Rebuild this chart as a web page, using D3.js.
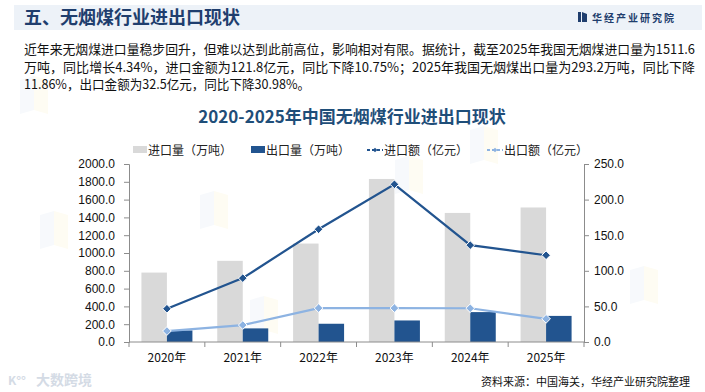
<!DOCTYPE html>
<html><head><meta charset="utf-8">
<script src="https://cdn.jsdelivr.net/npm/d3@7/dist/d3.min.js"></script>
<style>
html,body{margin:0;padding:0;background:#fff;}
svg{display:block;font-family:"Noto Sans CJK SC","Microsoft YaHei",sans-serif;}
</style></head>
<body><svg id="c" width="705" height="392"></svg>
<script>
const categories = ["2020年","2021年","2022年","2023年","2024年","2025年"];
const importVolume = [780, 912, 1106, 1832, 1450, 1511.6];
const exportVolume = [130, 153, 205, 242, 336, 293.2];
const importValue = [46.7, 89.7, 158.4, 221.5, 136.0, 121.8];
const exportValue = [15.4, 23.8, 47.6, 47.6, 47.4, 32.5];
const leftTicks = [0,200,400,600,800,1000,1200,1400,1600,1800,2000];
const rightTicks = [0,50,100,150,200,250];
const seriesNames = ["进口量（万吨）","出口量（万吨）","进口额（亿元）","出口额（亿元）"];
const paragraph = [
 "近年来无烟煤进口量稳步回升，但难以达到此前高位，影响相对有限。据统计，截至2025年我国无烟煤进口量为1511.6",
 "万吨，同比增长4.34%，进口金额为121.8亿元，同比下降10.75%；2025年我国无烟煤出口量为293.2万吨，同比下降",
 "11.86%，出口金额为32.5亿元，同比下降30.98%。"
];

const svg = d3.select("#c");
const C = {gray:"#d9d9d9", dark:"#22548f", imp:"#22548f", exp:"#8db3e2", title:"#1f3e6e"};

// faint watermark shapes (non-text)
[[20,80],[200,195],[40,215],[395,160],[250,300],[630,270],[470,130]].forEach(([x,y])=>{
  svg.append("path").attr("d",`M${x},${y} l14,-4 l0,34 l-14,4 Z`).attr("fill","#9fb6d8").attr("opacity",0.08);
  svg.append("path").attr("d",`M${x+14},${y-4} l14,4 l0,34 l-14,-4 Z`).attr("fill","#f5d66a").attr("opacity",0.08);
});

// header band
svg.append("rect").attr("x",14).attr("y",5).attr("width",688).attr("height",25).attr("fill","#edf2f8");
svg.append("text").attr("x",24).attr("y",24).attr("font-size",18).attr("font-weight","bold")
  .attr("fill",C.title).text("五、无烟煤行业进出口现状");
// logo
svg.append("rect").attr("x",578).attr("y",12).attr("width",3).attr("height",10).attr("fill",C.title);
svg.append("path").attr("d","M582,12 L587,14 L587,22 L582,22 Z").attr("fill",C.title);
svg.append("text").attr("x",592).attr("y",21.5).attr("font-size",10).attr("font-weight","bold")
  .attr("letter-spacing",2).attr("fill",C.title).text("华经产业研究院");

// paragraph
const pw = [671, 671, 286];
paragraph.forEach((t,i)=>{
  svg.append("text").attr("x",24).attr("y",54+i*17.5).attr("font-size",13).attr("fill","#111")
    .attr("textLength",pw[i]).attr("lengthAdjust","spacingAndGlyphs").text(t);
});

// chart title
svg.append("text").attr("x",352).attr("y",123).attr("text-anchor","middle").attr("font-size",17)
  .attr("font-weight","bold").attr("fill","#1f4e79").text("2020-2025年中国无烟煤行业进出口现状");

// scales
const x = d3.scaleBand().domain(categories).range([129,584]).padding(0);
const yL = d3.scaleLinear().domain([0,2000]).range([342,164]);
const yR = d3.scaleLinear().domain([0,250]).range([342,164]);
const bw = 25.5;

// bars
svg.append("g").selectAll("rect").data(importVolume).join("rect")
  .attr("x",(d,i)=>x(categories[i])+x.bandwidth()/2-bw).attr("width",bw)
  .attr("y",d=>yL(d)).attr("height",d=>yL(0)-yL(d)).attr("fill",C.gray);
svg.append("g").selectAll("rect").data(exportVolume).join("rect")
  .attr("x",(d,i)=>x(categories[i])+x.bandwidth()/2).attr("width",bw)
  .attr("y",d=>yL(d)).attr("height",d=>yL(0)-yL(d)).attr("fill",C.dark);

// axes
const axisColor = "#8c8c8c";
function styleAxis(g){
  g.select(".domain").attr("stroke",axisColor);
  g.selectAll(".tick line").attr("stroke",axisColor);
  g.selectAll(".tick text").attr("fill","#111").attr("font-size",12)
    .attr("font-family","'Liberation Sans',Arial,sans-serif");
}
svg.append("g").attr("transform","translate(129,0)")
  .call(d3.axisLeft(yL).tickValues(leftTicks).tickFormat(d3.format(".1f")).tickSize(5).tickSizeOuter(5).tickPadding(9))
  .call(styleAxis);
svg.append("g").attr("transform","translate(584,0)")
  .call(d3.axisRight(yR).tickValues(rightTicks).tickFormat(d3.format(".1f")).tickSize(5).tickPadding(5))
  .call(styleAxis);
// x axis
const xg = svg.append("g").attr("transform","translate(0,342)");
xg.append("line").attr("x1",129).attr("x2",584).attr("stroke",axisColor);
xg.selectAll("line.tk").data(d3.range(categories.length+1)).join("line").attr("class","tk")
  .attr("x1",i=>129+i*x.step()).attr("x2",i=>129+i*x.step()).attr("y1",0).attr("y2",5).attr("stroke",axisColor);
xg.selectAll("text").data(categories).join("text")
  .attr("x",d=>x(d)+x.bandwidth()/2).attr("y",20).attr("text-anchor","middle")
  .attr("font-size",12).attr("fill","#111").text(d=>d);

// lines
function drawLine(data,color){
  const line = d3.line().x((d,i)=>x(categories[i])+x.bandwidth()/2).y(d=>yR(d));
  svg.append("path").datum(data).attr("d",line).attr("fill","none").attr("stroke",color).attr("stroke-width",2.2);
  svg.append("g").selectAll("path").data(data).join("path")
    .attr("transform",(d,i)=>`translate(${x(categories[i])+x.bandwidth()/2},${yR(d)})`)
    .attr("d",d3.symbol(d3.symbolDiamond2,48)).attr("fill",color).attr("stroke","#fff").attr("stroke-width",1);
}
drawLine(exportValue,C.exp);
drawLine(importValue,C.imp);

// legend
const lg = svg.append("g").attr("font-size",12).attr("fill","#222");
lg.append("rect").attr("x",133).attr("y",146).attr("width",14).attr("height",7).attr("fill",C.gray);
lg.append("text").attr("x",148).attr("y",155).text(seriesNames[0]);
lg.append("rect").attr("x",251).attr("y",146).attr("width",14).attr("height",7).attr("fill",C.dark);
lg.append("text").attr("x",266).attr("y",155).text(seriesNames[1]);
[[367,C.imp,seriesNames[2]],[487,C.exp,seriesNames[3]]].forEach(([lx,col,name])=>{
  lg.append("line").attr("x1",lx).attr("x2",lx+16).attr("y1",150).attr("y2",150)
    .attr("stroke",col).attr("stroke-width",2).attr("stroke-dasharray","3,2");
  lg.append("path").attr("transform",`translate(${lx+8},150)`).attr("d",d3.symbol(d3.symbolDiamond2,14)).attr("fill",col);
  lg.append("text").attr("x",lx+17).attr("y",155).text(name);
});

// footer
svg.append("text").attr("x",690).attr("y",386).attr("text-anchor","end").attr("font-size",11)
  .attr("fill","#111").text("资料来源：中国海关，华经产业研究院整理");
svg.append("text").attr("x",36).attr("y",385).attr("font-size",14).attr("font-weight","bold")
  .attr("fill","#b8c4d4").attr("opacity",0.6).text("大数跨境");
svg.append("text").attr("x",8).attr("y",385).attr("font-size",12).attr("font-weight","bold")
  .attr("fill","#b8c4d4").attr("opacity",0.6).text("K°°");
</script></body></html>
